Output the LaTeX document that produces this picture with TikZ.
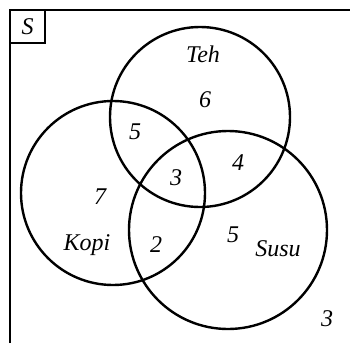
\documentclass[tikz,border=0pt]{standalone}
\usepackage{fontspec}
\setmainfont{Liberation Serif}
\usetikzlibrary{positioning}

\begin{document}
\begin{tikzpicture}[x=1pt, y=-1pt,
      bulatan/.style={draw, circle, line width=2.4pt, inner sep=0pt},
      tulisan/.style={font=\fontsize{24}{27}\selectfont\itshape, inner sep=0pt}]
    \useasboundingbox (0,0) rectangle (350,343);
    % frame S
    \draw[line width=2.6pt] (10,343) -- (10,10) -- (350,10);
    \node[draw, line width=2.4pt, minimum width=35pt, minimum height=33pt,
      inner sep=0pt, font=\fontsize{24}{27}\selectfont\itshape] (s) at (27.5,26.5) {S};
    % sets
    \node[bulatan, minimum size=180pt] (teh) at (200,117) {};
    \node[bulatan, minimum size=184pt] (kopi) at (113,193) {};
    \node[bulatan, minimum size=198pt] (susu) at (228,230) {};
    % names
    \node[tulisan] (nteh) at (203,54) {Teh};
    \node[tulisan] (nkopi) at (87,245) {Kopi};
    \node[tulisan] (nsusu) at (278,249) {Susu};
    % numbers
    \node[tulisan] (t) at (205,100) {6};
    \node[tulisan] (tk) at (135,132) {5};
    \node[tulisan] (tks) at (176,178) {3};
    \node[tulisan] (ts) at (238,163) {4};
    \node[tulisan] (k) at (100,197) {7};
    \node[tulisan] (ks) at (156,245) {2};
    \node[tulisan] (u) at (233,235) {5};
    \node[tulisan] (luar) at (327,319) {3};
  \end{tikzpicture}
\end{document}
